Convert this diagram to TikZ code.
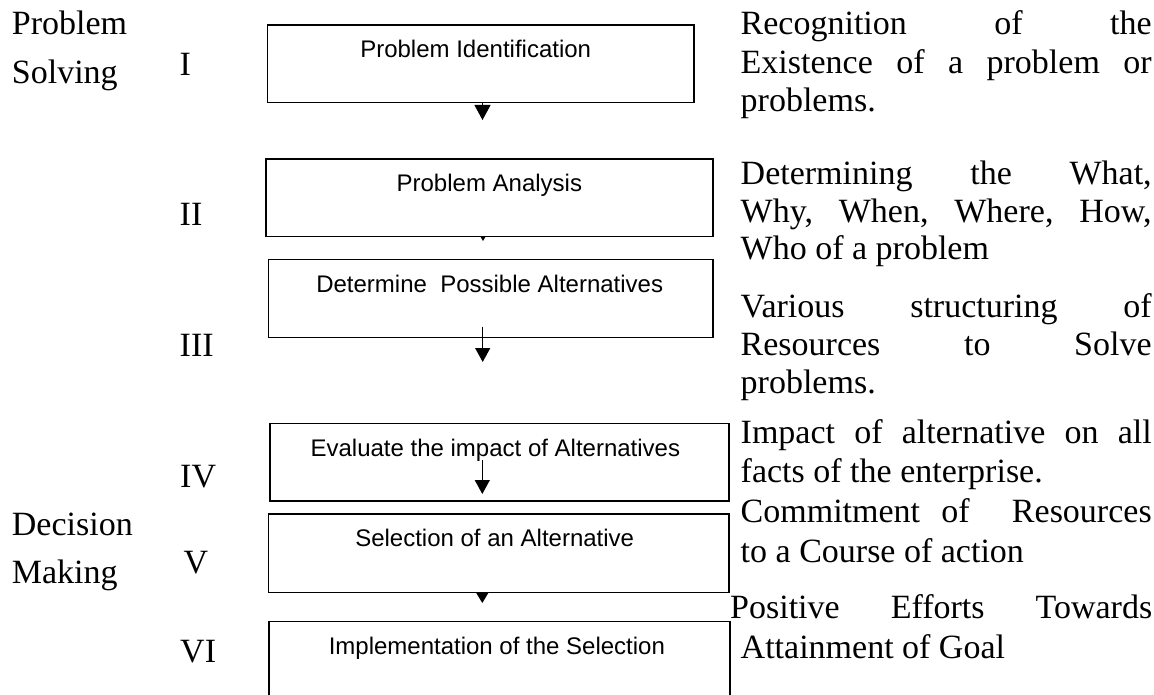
\documentclass[tikz,border=0pt]{standalone}
\usepackage{fontspec}
\setmainfont{Liberation Serif}
\newfontfamily\boxfont{Liberation Sans}
\usetikzlibrary{arrows.meta}
\begin{document}
\begin{tikzpicture}[x=1pt,y=-1pt,
  stepbox/.style={draw=black, line width=1.7pt, inner sep=0pt, anchor=north west},
  boxlabel/.style={font=\boxfont\fontsize{24}{28}\selectfont, anchor=base, inner sep=0pt},
  numeral/.style={font=\fontsize{34}{40}\selectfont, anchor=base west, inner sep=0pt},
  phase/.style={font=\fontsize{34}{48.3}\selectfont, anchor=base west, inner sep=0pt,
                text width=160pt, align=left},
  note/.style={font=\fontsize{34}{38.5}\selectfont, anchor=base west, inner sep=0pt,
               text width=411pt, align=justify},
  flow/.style={line width=1.2pt, -{Triangle[width=15pt,length=14pt]}},
]
\useasboundingbox (0,0) rectangle (1154,695);
\clip (0,0) rectangle (1154,695);

% phase labels on the left
\node[phase] (ps) at (11.7,35) {Problem\\Solving};
\node[phase] (dm) at (11.7,535) {Decision\\Making};

% step numerals
\node[numeral] (n1) at (179.5,76) {I};
\node[numeral] (n2) at (179.5,225.7) {II};
\node[numeral] (n3) at (179.5,356) {III};
\node[numeral] (n4) at (180,487.3) {IV};
\node[numeral] (n5) at (183.5,573.3) {V};
\node[numeral] (n6) at (180,662.7) {VI};

% step boxes
\node[stepbox, minimum width=426.3pt, minimum height=77.7pt] (b1) at (266.7,24) {};
\node[stepbox, minimum width=447pt,   minimum height=77.7pt] (b2) at (265,158) {};
\node[stepbox, minimum width=444.3pt, minimum height=78pt]   (b3) at (267.7,258.7) {};
\node[stepbox, minimum width=459pt,   minimum height=77.3pt] (b4) at (269,422.7) {};
\node[stepbox, minimum width=460.3pt, minimum height=78.7pt] (b5) at (267.7,513) {};
\node[stepbox, minimum width=461pt,   minimum height=80pt]   (b6) at (268,620.7) {};

% box captions
\node[boxlabel] (t1) at ([xshift=-5pt,yshift=-33.5pt]b1.north) {Problem Identification};
\node[boxlabel] (t2) at ([yshift=-33.5pt]b2.north) {Problem Analysis};
\node[boxlabel] (t3) at ([xshift=-1pt,yshift=-33.5pt]b3.north) {Determine\ \ Possible Alternatives};
\node[boxlabel] (t4) at ([xshift=-4pt,yshift=-33.5pt]b4.north) {Evaluate the impact of Alternatives};
\node[boxlabel] (t5) at ([xshift=-4pt,yshift=-33.5pt]b5.north) {Selection of an Alternative};
\node[boxlabel] (t6) at ([xshift=-2.5pt,yshift=-33.5pt]b6.north) {Implementation of the Selection};

% arrows between the steps
\coordinate (a1e) at (482.5,120);
\coordinate (a2e) at (483,241);
\coordinate (a3s) at (482.7,326.7);
\coordinate (a3e) at (482.7,362);
\coordinate (a4s) at (482.3,460);
\coordinate (a4e) at (482.3,494);
\coordinate (a5e) at (482.3,603);
\draw[line width=1.2pt, -{Triangle[width=16pt,length=15pt]}] (b1.south -| a1e) -- (a1e);
\draw[line width=1.2pt, -{Triangle[width=5pt,length=4.5pt]}] (b2.south -| a2e) -- (a2e);
\draw[flow] (a3s) -- (a3e);
\draw[flow] (a4s) -- (a4e);
\draw[line width=1.2pt, -{Triangle[width=13pt,length=11pt]}] (b5.south -| a5e) -- (a5e);

% descriptions on the right
\node[note] (d1) at (740.5,35) {Recognition of the\linebreak Existence of a problem or\linebreak problems.};
\node[note, font=\fontsize{34}{37.5}\selectfont] (d2) at (740.5,185) {Determining the What,\linebreak Why, When, Where, How,\linebreak Who of a problem};
\node[note, font=\fontsize{34}{38}\selectfont] (d3) at (740.5,317) {Various structuring of\linebreak Resources to Solve\linebreak problems.};
\node[note, font=\fontsize{34}{39}\selectfont] (d4) at (740.5,443) {Impact of alternative on all\linebreak facts of the enterprise.};
\node[note, font=\fontsize{34}{40}\selectfont] (d5) at (740.5,522) {Commitment of\ \ Resources\linebreak to a Course of action};
\node[note, font=\fontsize{34}{40}\selectfont, text width=422pt] (d6) at (730,618) {Positive Efforts Towards\linebreak\hspace*{10.5pt}Attainment of Goal};
\end{tikzpicture}
\end{document}
